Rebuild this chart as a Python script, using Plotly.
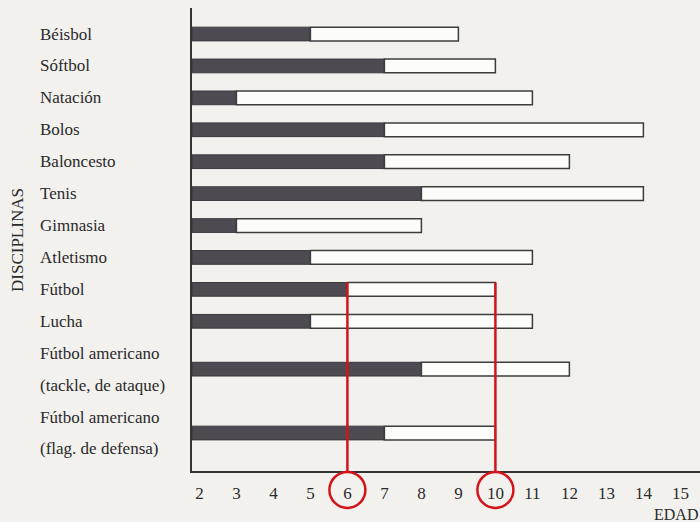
import plotly.graph_objects as go

# ---- data ----
disciplinas = [
    "Béisbol", "Sóftbol", "Natación", "Bolos", "Baloncesto", "Tenis",
    "Gimnasia", "Atletismo", "Fútbol", "Lucha",
    "Fútbol americano\n(tackle, de ataque)",
    "Fútbol americano\n(flag. de defensa)",
]
edad_inicio = [5, 7, 3, 7, 7, 8, 3, 5, 6, 5, 8, 7]      # end of dark segment
edad_fin = [9, 10, 11, 14, 12, 14, 8, 11, 10, 11, 12, 10]  # end of white segment
edades = list(range(2, 16))
edades_marcadas = [6, 10]
disciplina_marcada = "Fútbol"
eje_origen = 1.8

# label lines and bar centers (a two-line label puts its bar between its lines)
lineas, centros = [], []
for d in disciplinas:
    partes = d.split("\n")
    inicio = len(lineas)
    lineas += partes
    centros.append(inicio + (len(partes) - 1) / 2)

FONT = "Liberation Serif"
TXT = "#2a2a2a"
BG = "#f2f1ee"
RED = "#d3141b"
y_bottom, y_top = 13.69, -0.815
bar_w = 0.43

fig = go.Figure()
fig.add_trace(go.Bar(
    y=centros, x=[i - eje_origen for i in edad_inicio], base=eje_origen,
    orientation="h", width=bar_w,
    marker=dict(color="#4d4b51", line=dict(color="#3a393d", width=1)),
    showlegend=False, hoverinfo="skip",
))
fig.add_trace(go.Bar(
    y=centros, x=[f - i for i, f in zip(edad_inicio, edad_fin)], base=edad_inicio,
    orientation="h", width=bar_w,
    marker=dict(color="#fcfcfb", line=dict(color="#3c3c3c", width=1.5)),
    showlegend=False, hoverinfo="skip",
))

annotations = []
for k, t in enumerate(lineas):
    annotations.append(dict(
        text=t, xref="paper", x=-0.303, xanchor="left",
        yref="y", y=k, yanchor="middle", showarrow=False,
        font=dict(family=FONT, size=17, color=TXT),
    ))
annotations.append(dict(
    text="DISCIPLINAS", xref="paper", x=-0.3425, xanchor="center",
    yref="paper", y=0.499, yanchor="middle", textangle=-90, showarrow=False,
    font=dict(family=FONT, size=17, color=TXT),
))
annotations.append(dict(
    text="EDAD", xref="paper", x=1.0, xanchor="right",
    yref="paper", y=-0.095, yanchor="middle", showarrow=False,
    font=dict(family=FONT, size=16, color=TXT),
))

shapes = []
yc = centros[disciplinas.index(disciplina_marcada)]
for a in edades_marcadas:
    shapes.append(dict(type="line", xref="x", yref="y", x0=a, x1=a,
                       y0=yc - bar_w / 2, y1=y_bottom,
                       line=dict(color=RED, width=2.5)))
    shapes.append(dict(type="circle", xref="x", yref="paper",
                       xsizemode="pixel", ysizemode="pixel",
                       xanchor=a, yanchor=-0.041,
                       x0=-18, x1=18, y0=-18, y1=18,
                       line=dict(color=RED, width=2.5)))

fig.update_layout(
    width=700, height=522,
    margin=dict(l=192, r=0, t=8, b=51),
    paper_bgcolor=BG, plot_bgcolor=BG,
    barmode="overlay",
    annotations=annotations, shapes=shapes,
    xaxis=dict(range=[eje_origen, 15.53], tickvals=edades,
               ticktext=[str(e) for e in edades],
               showgrid=False, zeroline=False, showline=True,
               linecolor="#333", linewidth=1.5, ticks="",
               ticklabelstandoff=6,
               tickfont=dict(family=FONT, size=17, color=TXT)),
    yaxis=dict(range=[y_bottom, y_top], showticklabels=False,
               showgrid=False, zeroline=False, showline=True,
               linecolor="#333", linewidth=1.5, ticks=""),
)

fig.write_html(
    "out.html",
    config={"displayModeBar": False},
    post_script="document.body.style.margin='0';document.body.style.background='#f2f1ee';",
)
